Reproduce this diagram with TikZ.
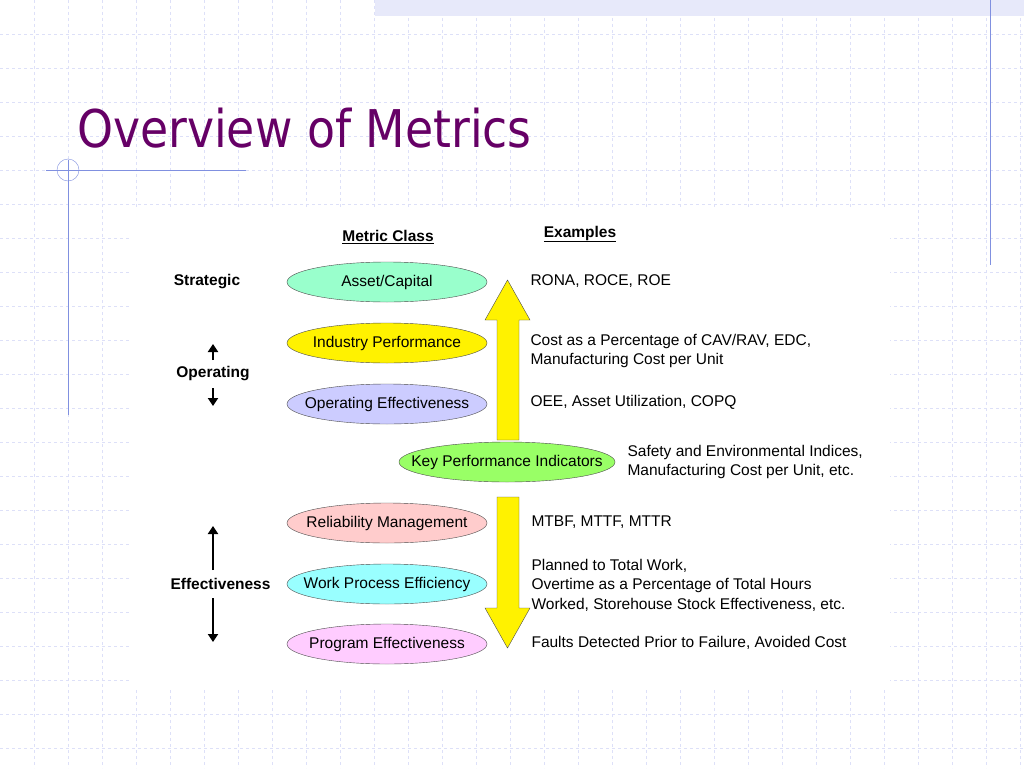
\documentclass[tikz,border=0pt]{standalone}
\usepackage{fontspec}
\setmainfont{Liberation Sans}
\newfontfamily\titlefont{DejaVu Sans}
\usetikzlibrary{shapes.geometric,arrows.meta}
\definecolor{gridc}{HTML}{DDE0F8}
\definecolor{linec}{HTML}{8090E0}
\definecolor{titc}{HTML}{660066}
\tikzset{
 ell/.style={ellipse,draw=black!70,minimum width=200pt,minimum height=40pt,inner xsep=-28pt,inner ysep=-4pt,font=\fontsize{15.5}{17}\selectfont},
 lbl/.style={font=\bfseries\fontsize{15.5}{17}\selectfont},
 ex/.style={anchor=west,align=left,font=\fontsize{15.5}{19.5}\selectfont},
 bigarrow/.style={fill=yellow,draw=black!70},
 blk/.style={-{Triangle[length=8pt,width=10pt]},line width=2.5pt}
}
\begin{document}
\begin{tikzpicture}[x=1pt,y=-1pt]
\useasboundingbox (0,0) rectangle (1024,768);
\fill[white] (0,0) rectangle (1024,768);
\foreach \i in {1,...,30} {\draw[gridc,dashed,line width=0.8pt] (\i*34,0) -- (\i*34,768);}
\foreach \i in {1,...,22} {\draw[gridc,dashed,line width=0.8pt] (0,\i*34) -- (1024,\i*34);}
\fill[gridc!70] (375,0) rectangle (1024,16);
\fill[white] (130,210) rectangle (890,690);
\draw[linec] (990,0) -- (990,265);
\draw[linec] (46,170) -- (246,170);
\draw[linec] (68,160) -- (68,415);
\draw[linec] (68,170) circle (11);
\node[anchor=west,text=titc,font=\titlefont\fontsize{52}{58}\selectfont,xscale=0.88] (title) at (74,128) {Overview of Metrics};
% headers
\node[lbl] (mc) at (388,237) {\underline{Metric Class}};
\node[lbl] (exh) at (580,234) {\underline{Examples}};
% arrows
\draw[bigarrow] (497,440) -- (497,320) -- (485,320) -- (507.5,280) -- (530,320) -- (519,320) -- (519,440) -- cycle;
\draw[bigarrow] (497,497) -- (497,608) -- (485,608) -- (507.5,648) -- (530,608) -- (519,608) -- (519,497) -- cycle;
% ellipses
\node[ell,fill={rgb,255:red,153;green,255;blue,204}] (ac) at (387,282) {Asset/Capital};
\node[ell,fill=yellow] (ip) at (387,343) {Industry Performance};
\node[ell,fill={rgb,255:red,204;green,204;blue,255}] (oe) at (387,404) {Operating Effectiveness};
\node[ell,fill={rgb,255:red,153;green,255;blue,102},minimum width=216pt] (kpi) at (507,462) {Key Performance Indicators};
\node[ell,fill={rgb,255:red,255;green,204;blue,204}] (rm) at (387,523) {Reliability Management};
\node[ell,fill={rgb,255:red,153;green,255;blue,255}] (wp) at (387,584) {Work Process Efficiency};
\node[ell,fill={rgb,255:red,255;green,204;blue,255}] (pe) at (387,644) {Program Effectiveness};
% left labels
\node[lbl] (st) at (207,282) {Strategic};
\node[lbl] (op) at (213,374) {Operating};
\node[lbl,anchor=west] (ef) at (167,584) {Effectiveness};
\coordinate (opu) at (213,344); \coordinate (opd) at (213,406);
\draw[blk] (213,360) -- (opu);
\draw[blk] (213,388) -- (opd);
\coordinate (efu) at (213,526); \coordinate (efd) at (213,642);
\draw[blk] (213,570) -- (efu);
\draw[blk] (213,598) -- (efd);
% examples
\node[ex] (e1) at (527,281) {RONA, ROCE, ROE};
\node[ex] (e2) at (527,351) {Cost as a Percentage of CAV/RAV, EDC,\\Manufacturing Cost per Unit};
\node[ex] (e3) at (527,402) {OEE, Asset Utilization, COPQ};
\node[ex] (e4) at (624,462) {Safety and Environmental Indices,\\Manufacturing Cost per Unit, etc.};
\node[ex] (e5) at (528,522) {MTBF, MTTF, MTTR};
\node[ex] (e6) at (528,585) {Planned to Total Work,\\Overtime as a Percentage of Total Hours\\Worked, Storehouse Stock Effectiveness, etc.};
\node[ex] (e7) at (528,643) {Faults Detected Prior to Failure, Avoided Cost};
\end{tikzpicture}
\end{document}
